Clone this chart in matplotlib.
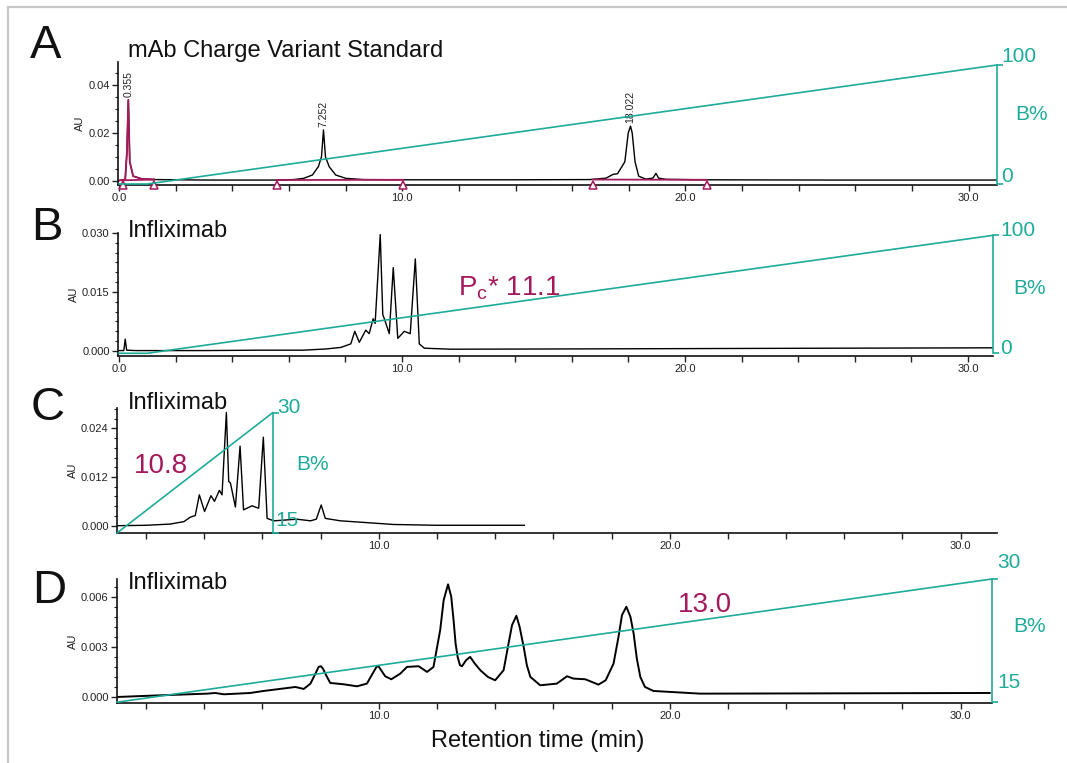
import matplotlib
matplotlib.use('Agg')
import numpy as np
import matplotlib.pyplot as plt
from matplotlib.ticker import MultipleLocator, FuncFormatter

plt.rcParams['font.family'] = ['Liberation Sans', 'DejaVu Sans']
plt.rcParams['mathtext.fontset'] = 'custom'
plt.rcParams['mathtext.rm'] = 'Liberation Sans'

TEAL = '#1eab99'
MAGENTA = '#a3195b'
INK = '#222222'

# ---- Panel A: mAb charge variant standard ----
a_t = [0.0, 0.22, 0.28, 0.33, 0.38, 0.5, 0.8, 1.24, 3.0, 5.57, 6.17, 6.52, 6.83,
       7.04, 7.15, 7.22, 7.29, 7.42, 7.65, 8.01, 8.63, 10.0, 14.0, 16.64, 17.2,
       17.45, 17.6, 17.86, 17.98, 18.06, 18.12, 18.22, 18.35, 18.6, 18.85, 18.96,
       19.05, 19.3, 20.5, 25.0, 31.0]
a_au = [0.0002, 0.0006, 0.012, 0.0338, 0.008, 0.002, 0.0009, 0.0006, 0.0004,
        0.0004, 0.0006, 0.0011, 0.0025, 0.006, 0.0101, 0.0213, 0.0101, 0.006,
        0.0025, 0.0011, 0.0006, 0.0005, 0.0005, 0.0006, 0.0012, 0.0028, 0.0030,
        0.008, 0.020, 0.0229, 0.020, 0.008, 0.002, 0.0008, 0.0012, 0.0032,
        0.0012, 0.0007, 0.0005, 0.0004, 0.0004]
a_peak_t = [0.33, 7.22, 18.06]
a_peak_au = [0.0338, 0.0213, 0.0229]
a_peak_lbl = ['0.355', '7.252', '18.022']
a_mark_t = [0.13, 1.24, 5.57, 10.04, 16.72, 20.75]
a_mark_au = [0.0003, 0.0006, 0.0004, 0.0005, 0.0006, 0.0005]
a_grad_t = [0.0, 1.0, 31.0]
a_grad_b = [0, 0, 100]

# ---- Panel B: Infliximab, pH gradient ----
b_t = [0.0, 0.17, 0.22, 0.27, 0.6, 3.0, 5.0, 6.5, 7.3, 7.84, 8.19, 8.33, 8.49,
       8.72, 8.84, 8.98, 9.05, 9.23, 9.32, 9.37, 9.55, 9.69, 9.85, 10.08, 10.29,
       10.47, 10.61, 10.79, 11.74, 15.0, 20.0, 25.0, 30.88]
b_au = [0.0001, 0.0001, 0.003, 0.0002, 0.0001, 0.0001, 0.0002, 0.0002, 0.0005,
        0.0009, 0.0018, 0.0050, 0.0022, 0.0053, 0.0044, 0.0082, 0.0070, 0.0296,
        0.0092, 0.0083, 0.0044, 0.0212, 0.0032, 0.0050, 0.0044, 0.0234, 0.0018,
        0.0007, 0.00045, 0.0005, 0.0006, 0.0007, 0.0008]
b_grad_t = [0.0, 1.0, 30.88]
b_grad_b = [0, 0, 100]

# ---- Panel C: Infliximab, short gradient ----
c_t = [1.0, 2.0, 2.83, 3.06, 3.3, 3.52, 3.69, 3.83, 4.01, 4.23, 4.35, 4.52, 4.61,
       4.76, 4.84, 4.90, 5.07, 5.23, 5.35, 5.64, 5.87, 6.03, 6.16, 6.39, 7.19,
       7.65, 7.85, 8.02, 8.16, 8.68, 9.5, 10.5, 12.0, 15.0]
c_au = [0.0000, 0.0001, 0.0004, 0.0007, 0.0010, 0.0021, 0.0025, 0.0076, 0.0035,
        0.0074, 0.0060, 0.0087, 0.0076, 0.0279, 0.0109, 0.0105, 0.0046, 0.0196,
        0.0039, 0.0049, 0.0043, 0.0218, 0.0018, 0.0012, 0.0016, 0.0012, 0.0016,
        0.0051, 0.0018, 0.0012, 0.0008, 0.0003, 0.0001, 0.0001]
c_grad_t = [1.0, 6.35]
c_grad_b = [15, 30]

# ---- Panel D: Infliximab, shallow gradient ----
d_t = [1.0, 2.49, 4.1, 4.38, 4.67, 5.58, 6.04, 6.96, 7.13, 7.42, 7.65, 7.85, 7.93,
       8.01, 8.08, 8.16, 8.33, 8.79, 9.25, 9.59, 9.82, 9.92, 9.99, 10.08, 10.22,
       10.43, 10.74, 10.97, 11.37, 11.66, 11.88, 12.11, 12.23, 12.38, 12.49,
       12.57, 12.64, 12.71, 12.79, 12.86, 13.0, 13.14, 13.3, 13.49, 13.75, 14.0,
       14.29, 14.46, 14.58, 14.73, 14.84, 14.98, 15.09, 15.21, 15.55, 16.12,
       16.47, 16.69, 17.1, 17.55, 17.8, 18.07, 18.24, 18.36, 18.51, 18.65, 18.76,
       18.87, 18.99, 19.15, 19.44, 21.05, 31.0]
d_au = [0.0, 0.0001, 0.0002, 0.00024, 0.00016, 0.00024, 0.00036, 0.00056, 0.0006,
        0.00048, 0.0008, 0.0015, 0.0018, 0.00184, 0.0017, 0.0014, 0.00084,
        0.00076, 0.00064, 0.0008, 0.0015, 0.0018, 0.00184, 0.0016, 0.00124,
        0.00106, 0.0014, 0.0018, 0.00184, 0.0015, 0.0018, 0.0040, 0.0058,
        0.00674, 0.0060, 0.0046, 0.0032, 0.0024, 0.0019, 0.00184, 0.0022, 0.0024,
        0.0020, 0.0016, 0.0012, 0.0010, 0.0016, 0.0032, 0.0043, 0.00486, 0.0042,
        0.0030, 0.0019, 0.0012, 0.0007, 0.0008, 0.00124, 0.0011, 0.00106,
        0.00074, 0.0010, 0.0020, 0.0036, 0.0049, 0.0054, 0.0048, 0.0038, 0.0023,
        0.0012, 0.0006, 0.00036, 0.0002, 0.00024]
d_grad_t = [1.0, 31.08]
d_grad_b = [15, 30]

W, H = 1067, 763
fig = plt.figure(figsize=(W / 100, H / 100), dpi=100)


def box(l, t, r, b):
    # pixel box (from top-left) -> figure fraction
    return [l / W, 1 - b / H, (r - l) / W, (b - t) / H]


def ptext(x, y, s, **kw):
    fig.text(x / W, 1 - y / H, s, **kw)


def xfmt(v, pos):
    if abs(v - round(v)) < 1e-6 and round(v) % 10 == 0:
        return f'{v:.1f}'
    return ''


def setup(ax, xlim, ylim, yticks, ylabels, yminor):
    ax.set_xlim(*xlim)
    ax.set_ylim(*ylim)
    ax.patch.set_alpha(0)
    for s in ('top', 'right'):
        ax.spines[s].set_visible(False)
    for s in ('left', 'bottom'):
        ax.spines[s].set_linewidth(1.2)
        ax.spines[s].set_color('#111111')
    ax.xaxis.set_major_locator(MultipleLocator(2))
    ax.xaxis.set_major_formatter(FuncFormatter(xfmt))
    ax.set_yticks(yticks)
    ax.set_yticklabels(ylabels)
    ax.yaxis.set_minor_locator(MultipleLocator(yminor))
    ax.tick_params(labelsize=8, colors=INK, length=4, width=1, pad=2)
    ax.tick_params(which='minor', length=2, width=0.8, colors=INK)
    ax.set_ylabel('AU', fontsize=8, labelpad=2, color=INK)


def gradient_axis(ax, ylim, bounds, gt, gb, spine_x=None):
    tw = ax.twinx()
    tw.set_ylim(*ylim)
    for s in ('top', 'bottom', 'left'):
        tw.spines[s].set_visible(False)
    tw.spines['right'].set_color(TEAL)
    tw.spines['right'].set_linewidth(1.2)
    tw.spines['right'].set_bounds(*bounds)
    if spine_x is not None:
        tw.spines['right'].set_position(('data', spine_x))
    tw.set_yticks(bounds)
    tw.set_yticklabels([])
    tw.tick_params(axis='y', colors=TEAL, length=4, width=1.2)
    tw.plot(gt, gb, color=TEAL, lw=1.2, clip_on=False)
    return tw


# frame
fig.add_artist(plt.Line2D([8 / W, 1], [1 - 7 / H, 1 - 7 / H], color='#c8c8c8', lw=1.6))
fig.add_artist(plt.Line2D([8 / W, 8 / W], [0, 1 - 7 / H], color='#c8c8c8', lw=1.6))

# ---- A ----
axA = fig.add_axes(box(118, 62, 997, 185))
setup(axA, (-0.035, 31.0), (-0.00167, 0.0496), [0, 0.02, 0.04],
      ['0.00', '0.02', '0.04'], 0.005)
axA.plot(a_t, a_au, color='black', lw=1.0)
ta = np.array(a_t)
ma = ta <= a_mark_t[1]
axA.plot(ta[ma], np.array(a_au)[ma], color=MAGENTA, lw=1.3)
for i in range(0, len(a_mark_t), 2):
    axA.plot(a_mark_t[i:i + 2], a_mark_au[i:i + 2], color=MAGENTA, lw=1.3)
axA.plot(a_mark_t, np.zeros(len(a_mark_t)), transform=axA.get_xaxis_transform(),
         ls='none', marker='^', ms=5.5, mfc='white', mec=MAGENTA, mew=1.1,
         clip_on=False, zorder=5)
for t, y, s in zip(a_peak_t, a_peak_au, a_peak_lbl):
    axA.annotate(s, (t, y), xytext=(0, 2), textcoords='offset points',
                 rotation=90, ha='center', va='bottom', fontsize=7.5, color=INK)
gradient_axis(axA, (-0.84, 102.5), (0, 100), a_grad_t, a_grad_b)

# ---- B ----
axB = fig.add_axes(box(118, 233, 993, 356))
setup(axB, (-0.035, 30.88), (-0.00128, 0.0300), [0, 0.015, 0.030],
      ['0.000', '0.015', '0.030'], 0.0025)
axB.plot(b_t, b_au, color='black', lw=1.0)
gradient_axis(axB, (-2.3, 102.0), (0, 100), b_grad_t, b_grad_b)

# ---- C ----
axC = fig.add_axes(box(117, 408, 997, 533))
setup(axC, (1.0, 31.25), (-0.0018, 0.0290), [0, 0.012, 0.024],
      ['0.000', '0.012', '0.024'], 0.0024)
axC.plot(c_t, c_au, color='black', lw=1.0)
gradient_axis(axC, (15, 30.59), (15, 30), c_grad_t, c_grad_b, spine_x=6.35)

# ---- D ----
axD = fig.add_axes(box(117, 579, 992, 703))
setup(axD, (1.0, 31.08), (-0.00036, 0.00706), [0, 0.003, 0.006],
      ['0.000', '0.003', '0.006'], 0.0006)
axD.plot(d_t, d_au, color='black', lw=1.4)
gradient_axis(axD, (14.9, 30.0), (15, 30), d_grad_t, d_grad_b)

# panel letters and titles
for x, y, s in [(30, 58, 'A'), (31, 240, 'B'), (31, 420, 'C'), (32, 603, 'D')]:
    ptext(x, y, s, fontsize=34, va='baseline', color='#111111')
ptext(128, 57, 'mAb Charge Variant Standard', fontsize=17, va='baseline', color='#111111')
for y in (237, 409, 589):
    ptext(128, y, 'Infliximab', fontsize=17, va='baseline', color='#111111')

# gradient axis labels
gl = dict(fontsize=15, color=TEAL, va='center')
ptext(1001, 57, '100', **gl)
ptext(1001, 177, '0', **gl)
ptext(1015, 115, 'B%', **gl)
ptext(1000, 231, '100', **gl)
ptext(1000, 349, '0', **gl)
ptext(1013, 288, 'B%', **gl)
ptext(277, 407, '30', **gl)
ptext(275, 521, '15', **gl)
ptext(296, 465, 'B%', **gl)
ptext(997, 562, '30', **gl)
ptext(997, 683, '15', **gl)
ptext(1013, 626, 'B%', **gl)

# pH / slope annotations
ml = dict(fontsize=20, color=MAGENTA, va='baseline')
ptext(458, 295, r'P$_\mathregular{c}$* 11.1', **ml)
ptext(134, 473, '10.8', **ml)
ptext(678, 612, '13.0', **ml)

ptext(538, 747, 'Retention time (min)', fontsize=17, ha='center', va='baseline',
      color='#111111')

fig.savefig('out.png', dpi=100)
